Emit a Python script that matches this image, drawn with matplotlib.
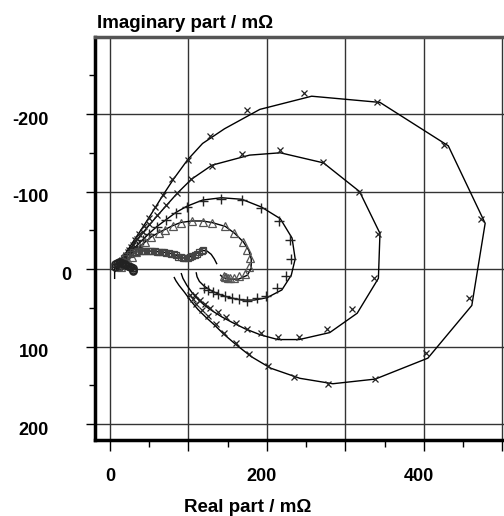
"""
Nyquist plot: impedance spectra with fitted model curves.
"""

import matplotlib.pyplot as plt
from matplotlib.ticker import MultipleLocator, FixedLocator, FixedFormatter
from matplotlib.transforms import ScaledTranslation

plt.rcParams['font.family'] = ['Liberation Sans', 'DejaVu Sans']

# Measured points (real part, imaginary part) in mOhm
s1_re = [11, 13, 16, 19, 23, 27, 32, 37, 43, 50, 58, 67, 79, 99, 127, 175, 247, 340, 426,
         473, 458, 403, 338, 278, 234, 201, 177, 160, 145, 135, 125, 117, 110, 106, 102]
s1_im = [-3, -6, -11, -16, -22, -29, -37, -45, -55, -66, -80, -96, -116, -141, -172, -205, -227, -216, -160,
         -64, 37, 108, 142, 148, 139, 125, 110, 95, 82, 71, 61, 53, 45, 39, 33]

s2_re = [11, 13, 16, 20, 24, 29, 35, 42, 50, 60, 72, 85, 103, 130, 168, 217, 271, 317, 342,
         336, 309, 276, 241, 214, 192, 175, 160, 148, 138, 128, 121, 115, 108]
s2_im = [-3, -7, -12, -18, -24, -31, -39, -48, -58, -70, -83, -98, -116, -133, -148, -153, -138, -100, -45,
         11, 52, 78, 88, 88, 82, 77, 69, 62, 56, 50, 45, 40, 34]

s3_re = [12, 16, 21, 27, 34, 42, 50, 60, 72, 84, 98, 118, 142, 168, 193, 215, 229, 231,
         224, 213, 199, 187, 175, 165, 155, 146, 138, 131, 125, 120]
s3_im = [-4, -9, -15, -22, -29, -37, -45, -54, -63, -72, -80, -88, -91, -89, -79, -62, -37, -13,
         9, 25, 35, 38, 41, 39, 37, 35, 32, 30, 27, 24]

s4_re = [14, 18, 23, 28, 33, 38, 45, 52, 62, 70, 80, 90, 104, 118, 130, 147, 158, 169, 175,
         178, 177, 172, 165, 158, 153, 150, 148, 146, 145]
s4_im = [-2, -6, -11, -16, -22, -29, -35, -41, -46, -51, -56, -60, -62, -61, -60, -55, -46, -35, -25,
         -14, -2, 6, 9, 11, 11, 11, 10, 10, 9]

s5_re = [10, 12, 15, 18, 21, 25, 30, 33, 36, 39, 42, 45, 48, 51, 54, 57, 60, 63, 66, 69, 72, 75, 78,
         81, 84, 87, 90, 93, 96, 99, 102, 105, 108, 111, 114, 117, 119]
s5_im = [-2, -6, -10, -14, -17, -20, -22, -22.5, -23, -23.5, -23.5, -23.5, -23.5, -23.5, -23, -23, -22.5, -22, -22, -21.5, -21, -20.5, -20,
         -19, -17.5, -16, -15, -14.5, -14, -14.5, -15.5, -17, -18.5, -20, -22, -23.5, -24]

s6_re = [6, 7, 9, 11, 13, 15, 17, 19, 21, 23, 25, 27, 29, 30, 29]
s6_im = [-3, -6, -8, -9, -9, -8, -7, -6, -5, -4, -3, -2, -1, 1, 3]

# Model fit curves
f1_re = [7, 9, 12, 17, 23, 30, 38, 47, 57, 68, 81, 99, 118, 146, 191, 257, 344, 431, 478,
         461, 405, 338, 284, 242, 205, 180, 160, 145, 133, 122, 112, 103, 95, 88, 84, 82]
f1_im = [3, -2, -8, -16, -25, -36, -48, -62, -78, -96, -116, -141, -162, -181, -206, -223, -215, -159, -59,
         47, 115, 142, 148, 141, 128, 113, 97, 84, 72, 62, 52, 41, 30, 21, 15, 11]

f2_re = [8, 12, 17, 23, 30, 38, 47, 58, 71, 86, 104, 130, 178, 217, 272, 318, 344,
         342, 315, 280, 241, 214, 192, 172, 156, 143, 132, 122, 113, 105, 98, 93, 91]
f2_im = [-2, -8, -15, -23, -32, -42, -53, -66, -81, -98, -116, -134, -147, -150, -137, -100, -46,
         12, 57, 82, 91, 91, 85, 77, 69, 62, 55, 48, 40, 31, 21, 12, 6]

f3_re = [8, 12, 16, 21, 27, 34, 42, 50, 60, 72, 84, 98, 118, 142, 168, 193, 217, 232, 236,
         231, 219, 200, 184, 168, 153, 140, 129, 120, 114, 111, 110]
f3_im = [-2, -5, -10, -16, -23, -30, -38, -46, -55, -64, -73, -81, -89, -92, -90, -80, -65, -40, -13,
         8, 27, 37, 40, 40, 37, 33, 28, 22, 16, 10, 5]

f4_re = [9, 14, 18, 23, 28, 33, 38, 45, 52, 62, 70, 80, 90, 104, 118, 130, 147, 159, 170,
         177, 180, 180, 175, 164, 152, 144, 141]
f4_im = [-1, -3, -7, -12, -17, -23, -29, -35, -41, -47, -51, -56, -60, -62, -62, -60, -55, -46, -35,
         -24, -13, -1, 8, 13, 13, 11, 8]

f5_re = [7, 10, 12, 15, 18, 21, 25, 30, 36, 42, 48, 54, 60, 66, 72, 78, 83, 88, 92, 96,
         100, 104, 108, 112, 116, 119, 124, 129, 133, 136]
f5_im = [0, -2, -6, -10, -14, -17, -20, -22, -23, -23.5, -23.5, -23, -22.5, -22, -21, -20, -18, -16, -14.5, -14,
         -15, -16.5, -18.5, -21, -23, -24, -23, -19, -13, -7]

f6_re = [6, 6, 6, 7, 9, 12, 15, 18, 21, 24, 27, 29, 30, 29]
f6_im = [12, 6, 0, -5, -8, -9, -8, -7, -5, -4, -3, -1, 1, 3]

x_ticks = [0, 100, 200, 300, 400, 500]
x_labels = ['0', '', '200', '', '400', '']
y_ticks = [-200, -100, 0, 100, 200]
y_labels = ['-200', '-100', '0', '100', '200']

fig = plt.figure(figsize=(5.04, 5.16), dpi=100)
ax = fig.add_axes([95 / 504, 1 - 440 / 516, 409 / 504, 403 / 516])

# Fit lines
for fx, fy in [(f1_re, f1_im), (f2_re, f2_im), (f3_re, f3_im),
               (f4_re, f4_im), (f5_re, f5_im), (f6_re, f6_im)]:
    ax.plot(fx, fy, '-', color='black', linewidth=1.0, zorder=3)

# Measured data
ax.plot(s1_re, s1_im, 'x', color='#222222', markersize=5, markeredgewidth=0.9, zorder=4)
ax.plot(s2_re, s2_im, 'x', color='#222222', markersize=5, markeredgewidth=0.9, zorder=4)
ax.plot(s3_re, s3_im, '+', color='#222222', markersize=7, markeredgewidth=1.0, zorder=4)
ax.plot(s4_re, s4_im, '^', markerfacecolor='none', markeredgecolor='#555555',
        markersize=6, markeredgewidth=0.9, zorder=4)
ax.plot(s5_re, s5_im, 's', markerfacecolor='none', markeredgecolor='#444444',
        markersize=4.5, markeredgewidth=0.9, zorder=4)
ax.plot(s6_re, s6_im, 'o', markerfacecolor='none', markeredgecolor='#222222',
        markersize=5, markeredgewidth=1.2, zorder=4)

ax.set_xlim(-19, 502)
ax.set_ylim(220.6, -299.4)

ax.xaxis.set_major_locator(FixedLocator(x_ticks))
ax.xaxis.set_major_formatter(FixedFormatter(x_labels))
ax.xaxis.set_minor_locator(MultipleLocator(50))
ax.yaxis.set_major_locator(FixedLocator(y_ticks))
ax.yaxis.set_major_formatter(FixedFormatter(y_labels))
ax.yaxis.set_minor_locator(MultipleLocator(50))

ax.grid(True, which='major', color='#333333', linewidth=1.0, zorder=1)
ax.set_axisbelow(True)

ax.tick_params(axis='x', which='major', direction='out', length=8, width=1, pad=12,
               labelsize=13)
ax.tick_params(axis='x', which='minor', direction='out', length=5, width=1)
ax.tick_params(axis='y', which='major', direction='out', length=6.5, width=1, pad=26.6,
               labelsize=13)
ax.tick_params(axis='y', which='minor', direction='out', length=4.3, width=1)

for lbl in ax.get_xticklabels() + ax.get_yticklabels():
    lbl.set_fontweight('bold')

for lbl in ax.get_xticklabels():
    if lbl.get_text() in ('200', '400'):
        lbl.set_transform(lbl.get_transform() + ScaledTranslation(-5 / 100, 0, fig.dpi_scale_trans))

for lbl in ax.get_yticklabels():
    dx = 22 / 100 if lbl.get_text() == '0' else 0
    lbl.set_transform(lbl.get_transform() + ScaledTranslation(dx, -4 / 100, fig.dpi_scale_trans))

ax.spines['right'].set_visible(False)
ax.spines['left'].set_linewidth(2.5)
ax.spines['bottom'].set_linewidth(2.5)
ax.spines['top'].set_linewidth(2.5)
ax.spines['top'].set_color('#555555')

fig.text(97 / 504, 1 - 27.5 / 516, 'Imaginary part / mΩ', fontsize=13.5, fontweight='bold',
         ha='left', va='baseline')
fig.text(247.5 / 504, 1 - 512 / 516, 'Real part / mΩ', fontsize=13.5, fontweight='bold',
         ha='center', va='baseline')

fig.savefig('out.png', dpi=100)
